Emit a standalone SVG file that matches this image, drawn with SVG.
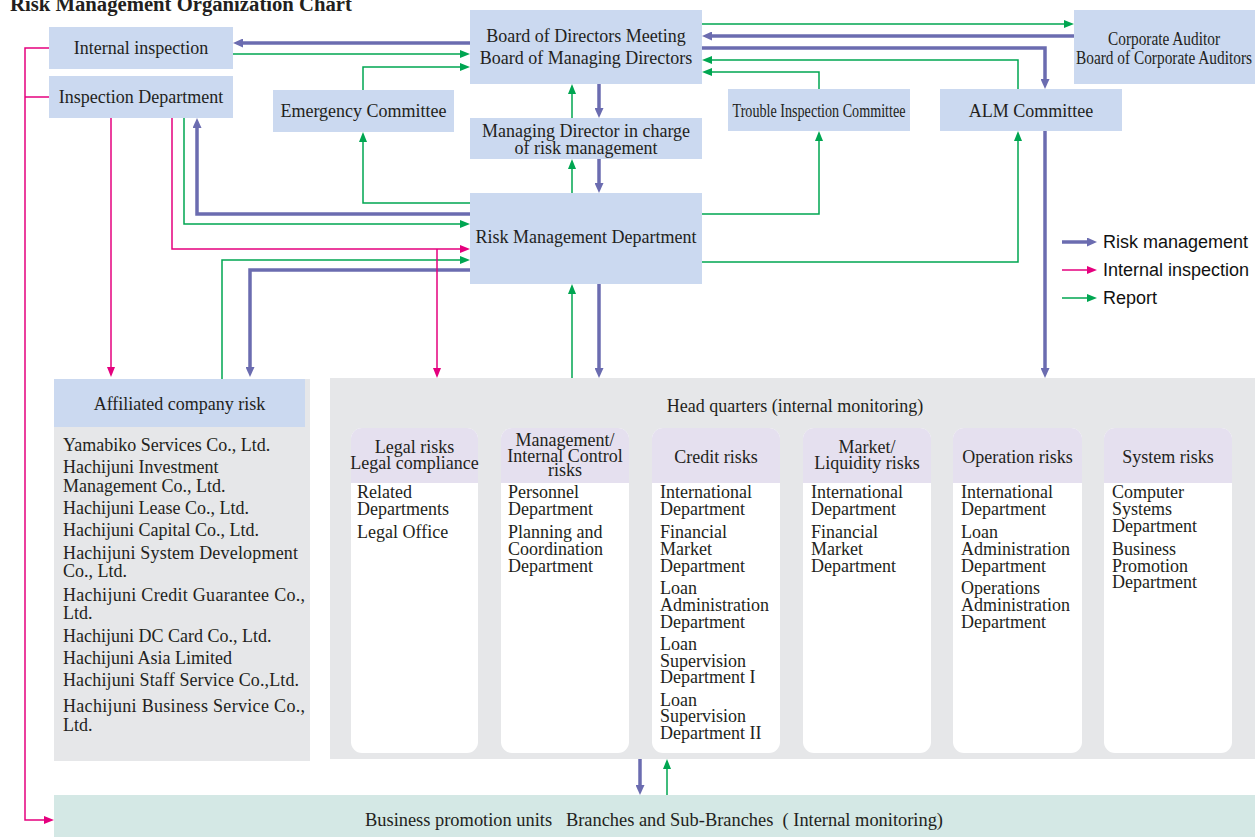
<svg xmlns="http://www.w3.org/2000/svg" width="1255" height="837" viewBox="0 0 1255 837">
<style>
text{font-family:"Liberation Serif","Times New Roman",serif;font-size:18px;fill:#231f20}
.c{text-anchor:middle}
.box{fill:#cbd9f0}
.gray{fill:#e6e7e9}
.hdr{fill:#e5e0ef}
.body{fill:#ffffff}
.pm{fill:none;stroke:#6b6cb0;stroke-width:3.5;marker-end:url(#ap)}
.pn{fill:none;stroke:#6b6cb0;stroke-width:3.5}
.gr{fill:none;stroke:#00a651;stroke-width:1.5;marker-end:url(#ag)}
.pk{fill:none;stroke:#e5007e;stroke-width:1.5;marker-end:url(#ak)}
.pkn{fill:none;stroke:#e5007e;stroke-width:1.5}
.leg{font-family:"Liberation Sans",Arial,sans-serif;font-size:18px;fill:#111}
.pre{white-space:pre}
</style>
<defs>
<marker id="ap" markerUnits="userSpaceOnUse" markerWidth="10" markerHeight="9" refX="4" refY="4.5" orient="auto"><path d="M0,0 L10,4.5 L0,9 z" fill="#6b6cb0"/></marker>
<marker id="ag" markerUnits="userSpaceOnUse" markerWidth="10" markerHeight="8" refX="4" refY="4" orient="auto"><path d="M0,0 L10,4 L0,8 z" fill="#00a651"/></marker>
<marker id="ak" markerUnits="userSpaceOnUse" markerWidth="10" markerHeight="8" refX="4" refY="4" orient="auto"><path d="M0,0 L10,4 L0,8 z" fill="#e5007e"/></marker>
</defs>
<rect width="1255" height="837" fill="#ffffff"/>
<text x="10" y="11" style="font-weight:bold;font-size:20.7px">Risk Management Organization Chart</text>

<g id="hq-panel"><rect class="gray" x="330" y="378" width="925" height="381"/><text class="c" x="795" y="412">Head quarters (internal monitoring)</text></g>

<g id="affiliated">
<rect class="gray" x="54" y="379" width="256" height="382"/>
<rect class="box" x="54" y="379" width="251" height="48"/>
<text class="c" x="179.5" y="410">Affiliated company risk</text>
<text x="63" y="451">Yamabiko Services Co., Ltd.</text>
<text x="63" y="473">Hachijuni Investment</text>
<text x="63" y="492">Management Co., Ltd.</text>
<text x="63" y="514">Hachijuni Lease Co., Ltd.</text>
<text x="63" y="536">Hachijuni Capital Co., Ltd.</text>
<text x="63" y="559" textLength="235">Hachijuni System Development</text>
<text x="63" y="577">Co., Ltd.</text>
<text x="63" y="601" textLength="242">Hachijuni Credit Guarantee Co.,</text>
<text x="63" y="619">Ltd.</text>
<text x="63" y="642">Hachijuni DC Card Co., Ltd.</text>
<text x="63" y="664">Hachijuni Asia Limited</text>
<text x="63" y="686" textLength="236">Hachijuni Staff Service Co.,Ltd.</text>
<text x="63" y="712" textLength="242">Hachijuni Business Service Co.,</text>
<text x="63" y="731">Ltd.</text>
</g>

<g id="internal-inspection"><rect class="box" x="49" y="27" width="184" height="42"/><text class="c" x="141" y="54">Internal inspection</text></g>
<g id="inspection-department"><rect class="box" x="49" y="76" width="184" height="42"/><text class="c" x="141" y="103">Inspection Department</text></g>
<g id="emergency-committee"><rect class="box" x="273" y="90" width="181" height="42"/><text class="c" x="363.5" y="117">Emergency Committee</text></g>
<g id="board"><rect class="box" x="470" y="10" width="232" height="74"/><text class="c" x="586" y="42">Board of Directors Meeting</text><text class="c" x="586" y="64">Board of Managing Directors</text></g>
<g id="managing-director"><rect class="box" x="470" y="118" width="232" height="41"/><text class="c" x="586" y="137">Managing Director in charge</text><text class="c" x="586" y="154">of risk management</text></g>
<g id="risk-management-department"><rect class="box" x="470" y="193" width="232" height="91"/><text class="c" x="586" y="243">Risk Management Department</text></g>
<g id="trouble-inspection"><rect class="box" x="728" y="89" width="182" height="42"/><text class="c" x="819" y="117" textLength="173" lengthAdjust="spacingAndGlyphs">Trouble Inspection Committee</text></g>
<g id="alm-committee"><rect class="box" x="940" y="89" width="182" height="42"/><text class="c" x="1031" y="117">ALM Committee</text></g>
<g id="corporate-auditor"><rect class="box" x="1074" y="10" width="181" height="74"/><text class="c" x="1164" y="45" textLength="112" lengthAdjust="spacingAndGlyphs">Corporate Auditor</text><text class="c" x="1164" y="64" textLength="176" lengthAdjust="spacingAndGlyphs">Board of Corporate Auditors</text></g>

<g id="col-legal">
<rect class="body" x="351" y="428" width="127" height="325" rx="11"/>
<path class="hdr" d="M351,483 V439 A11,11 0 0 1 362,428 H467 A11,11 0 0 1 478,439 V483 z"/>
<text class="c" x="414.5" y="453">Legal risks</text><text class="c" x="414.5" y="469">Legal compliance</text>
<text x="357" y="498">Related</text><text x="357" y="515">Departments</text><text x="357" y="538">Legal Office</text>
</g>
<g id="col-management">
<rect class="body" x="501" y="428" width="128" height="325" rx="11"/>
<path class="hdr" d="M501,483 V439 A11,11 0 0 1 512,428 H618 A11,11 0 0 1 629,439 V483 z"/>
<text class="c" x="565" y="446">Management/</text><text class="c" x="565" y="462">Internal Control</text><text class="c" x="565" y="476">risks</text>
<text x="508" y="498">Personnel</text><text x="508" y="515">Department</text><text x="508" y="538">Planning and</text><text x="508" y="555">Coordination</text><text x="508" y="572">Department</text>
</g>
<g id="col-credit">
<rect class="body" x="652" y="428" width="128" height="325" rx="11"/>
<path class="hdr" d="M652,483 V439 A11,11 0 0 1 663,428 H769 A11,11 0 0 1 780,439 V483 z"/>
<text class="c" x="716" y="463">Credit risks</text>
<text x="660" y="498">International</text><text x="660" y="515">Department</text>
<text x="660" y="538">Financial</text><text x="660" y="555">Market</text><text x="660" y="572">Department</text>
<text x="660" y="594">Loan</text><text x="660" y="611">Administration</text><text x="660" y="628">Department</text>
<text x="660" y="650">Loan</text><text x="660" y="667">Supervision</text><text x="660" y="683">Department I</text>
<text x="660" y="706">Loan</text><text x="660" y="722">Supervision</text><text x="660" y="739">Department II</text>
</g>
<g id="col-market">
<rect class="body" x="803" y="428" width="128" height="325" rx="11"/>
<path class="hdr" d="M803,483 V439 A11,11 0 0 1 814,428 H920 A11,11 0 0 1 931,439 V483 z"/>
<text class="c" x="867" y="453">Market/</text><text class="c" x="867" y="469">Liquidity risks</text>
<text x="811" y="498">International</text><text x="811" y="515">Department</text>
<text x="811" y="538">Financial</text><text x="811" y="555">Market</text><text x="811" y="572">Department</text>
</g>
<g id="col-operation">
<rect class="body" x="953" y="428" width="129" height="325" rx="11"/>
<path class="hdr" d="M953,483 V439 A11,11 0 0 1 964,428 H1071 A11,11 0 0 1 1082,439 V483 z"/>
<text class="c" x="1017.5" y="463">Operation risks</text>
<text x="961" y="498">International</text><text x="961" y="515">Department</text>
<text x="961" y="538">Loan</text><text x="961" y="555">Administration</text><text x="961" y="572">Department</text>
<text x="961" y="594">Operations</text><text x="961" y="611">Administration</text><text x="961" y="628">Department</text>
</g>
<g id="col-system">
<rect class="body" x="1104" y="428" width="128" height="325" rx="11"/>
<path class="hdr" d="M1104,483 V439 A11,11 0 0 1 1115,428 H1221 A11,11 0 0 1 1232,439 V483 z"/>
<text class="c" x="1168" y="463">System risks</text>
<text x="1112" y="498">Computer</text><text x="1112" y="515">Systems</text><text x="1112" y="532">Department</text>
<text x="1112" y="555">Business</text><text x="1112" y="572">Promotion</text><text x="1112" y="588">Department</text>
</g>

<g id="business-promotion"><rect x="54" y="795" width="1201" height="42" fill="#d4e8e5"/><text class="c pre" x="654" y="826" textLength="578" lengthAdjust="spacingAndGlyphs">Business promotion units   Branches and Sub-Branches  ( Internal monitoring)</text></g>

<g id="connectors">
<path class="pm" d="M470,43 H239"/>
<path class="pm" d="M1074,36 H708"/>
<path class="pm" d="M702,48 H1045 V83"/>
<path class="pm" d="M599,84 V112"/>
<path class="pm" d="M599,159 V187"/>
<path class="pm" d="M470,214 H197 V124"/>
<path class="pm" d="M470,270 H250 V371"/>
<path class="pm" d="M599,284 V372"/>
<path class="pm" d="M1045,131 V372"/>
<path class="pm" d="M640,759 V789"/>
<path class="gr" d="M233,54 H464"/>
<path class="gr" d="M363,90 V67 H464"/>
<path class="gr" d="M572,118 V90"/>
<path class="gr" d="M572,193 V165"/>
<path class="gr" d="M702,24 H1068"/>
<path class="gr" d="M1018,89 V60 H708"/>
<path class="gr" d="M819,89 V72 H708"/>
<path class="gr" d="M702,214 H819 V137"/>
<path class="gr" d="M702,262 H1018 V137"/>
<path class="gr" d="M470,203 H363 V138"/>
<path class="gr" d="M184,118 V224 H464"/>
<path class="gr" d="M222,379 V260 H464"/>
<path class="gr" d="M572,378 V290"/>
<path class="gr" d="M667,795 V765"/>
<path class="pk" d="M111,118 V371"/>
<path class="pk" d="M172,118 V249 H464"/>
<path class="pk" d="M437,249 V372"/>
<path class="pk" d="M49,48 H25 V820 H48"/>
<path class="pkn" d="M49,97 H25"/>
</g>

<g id="legend">
<path class="pm" d="M1062,242 H1091"/>
<path class="pk" d="M1062,270 H1091"/>
<path class="gr" d="M1062,298 H1091"/>
<text class="leg" x="1103" y="248">Risk management</text>
<text class="leg" x="1103" y="276">Internal inspection</text>
<text class="leg" x="1103" y="304">Report</text>
</g>
</svg>
